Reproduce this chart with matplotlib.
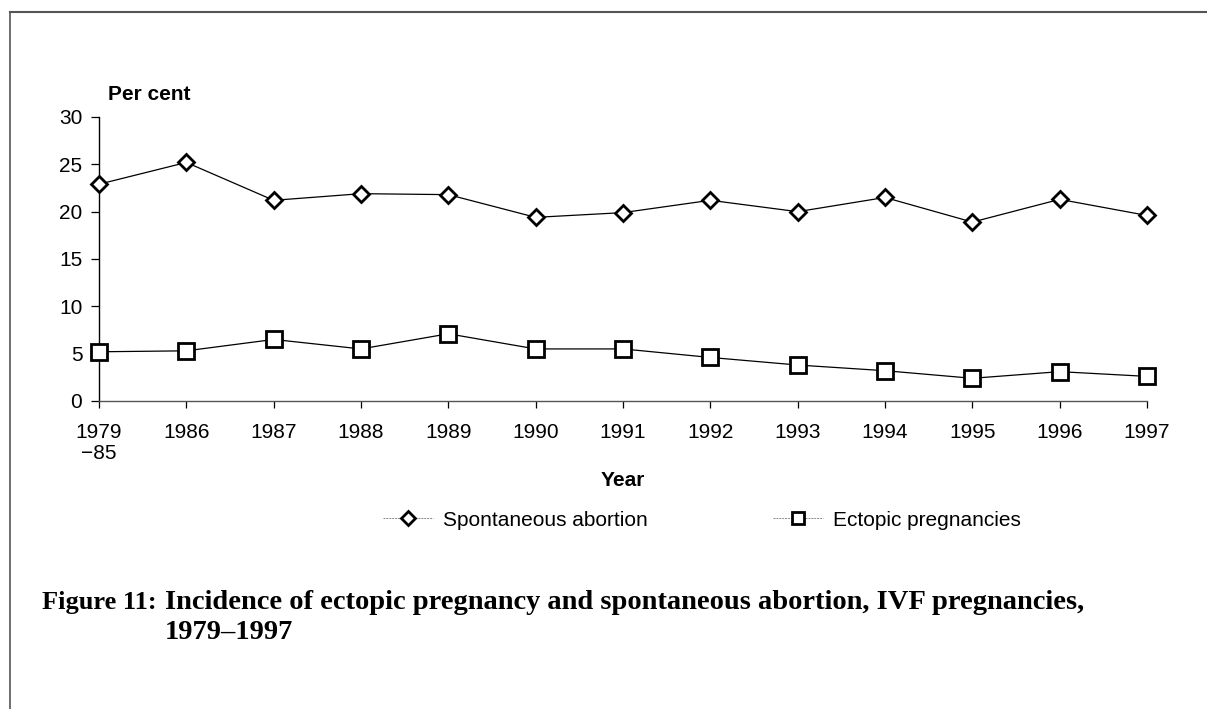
import matplotlib.pyplot as plt
from matplotlib.lines import Line2D

years = ['1979\n\u221285', '1986', '1987', '1988', '1989', '1990', '1991',
         '1992', '1993', '1994', '1995', '1996', '1997']
spontaneous = [22.9, 25.2, 21.2, 21.9, 21.8, 19.4, 19.9, 21.2, 20.0, 21.5, 18.9, 21.3, 19.6]
ectopic = [5.2, 5.3, 6.5, 5.5, 7.1, 5.5, 5.5, 4.6, 3.8, 3.2, 2.4, 3.1, 2.6]
yticks = [0, 5, 10, 15, 20, 25, 30]

plt.rcParams['font.family'] = ['Liberation Sans', 'DejaVu Sans']

W, H = 1207, 709
fig = plt.figure(figsize=(W / 100, H / 100), dpi=100)

# frame lines of the scanned page
fig.add_artist(Line2D([10 / W, 1], [1 - 12 / H, 1 - 12 / H], color='#555555', lw=1.5))
fig.add_artist(Line2D([10 / W, 10 / W], [0, 1 - 12 / H], color='#555555', lw=1.2))

x0, x1, ytop, ybot = 99, 1147, 117, 401
ax = fig.add_axes([x0 / W, 1 - ybot / H, (x1 - x0) / W, (ybot - ytop) / H])

x = list(range(len(years)))
ax.plot(x, spontaneous, color='black', lw=0.9, marker='D', markersize=8,
        markerfacecolor='white', markeredgecolor='black', markeredgewidth=2,
        clip_on=False, zorder=3)
ax.plot(x, ectopic, color='black', lw=0.9, marker='s', markersize=11,
        markerfacecolor='white', markeredgecolor='black', markeredgewidth=2,
        clip_on=False, zorder=3)

ax.set_xlim(0, len(years) - 1)
ax.set_ylim(0, 30)
ax.set_yticks(yticks)
ax.set_xticks(x)
ax.set_xticklabels(years, fontsize=15, linespacing=1.1)
ax.tick_params(axis='y', labelsize=15, length=6, width=0.9, direction='out', pad=6)
ax.tick_params(axis='x', length=5, width=0.9, direction='out', pad=11)
for lbl in ax.get_xticklabels():
    lbl.set_verticalalignment('top')
ax.spines['top'].set_visible(False)
ax.spines['right'].set_visible(False)
ax.spines['left'].set_linewidth(1.0)
ax.spines['bottom'].set_color('#555555')
ax.spines['bottom'].set_linewidth(1.0)

fig.text(108 / W, 1 - 95 / H, 'Per cent', fontsize=15, fontweight='bold', va='center', ha='left')
fig.text(623 / W, 1 - 480 / H, 'Year', fontsize=15, fontweight='bold', va='center', ha='center')

h1 = Line2D([], [], color='#888888', lw=0.7, ls=(0, (2, 1)), marker='D', markersize=7,
            markerfacecolor='white', markeredgecolor='black', markeredgewidth=2)
h2 = Line2D([], [], color='#888888', lw=0.7, ls=(0, (2, 1)), marker='s', markersize=9,
            markerfacecolor='white', markeredgecolor='black', markeredgewidth=2)
fig.legend([h1, h2], ['Spontaneous abortion', 'Ectopic pregnancies'],
           loc='center', bbox_to_anchor=(702 / W, 1 - 520 / H), ncol=2, frameon=False,
           fontsize=15, handlelength=2.4, handletextpad=0.5, columnspacing=6.0)

# caption, all on a common baseline
cap_font = dict(family=['Liberation Serif', 'DejaVu Serif'], fontweight='bold')
fig.text(42 / W, 1 - 609 / H, 'Figure 11:', va='baseline', ha='left', fontsize=19, **cap_font)
fig.text(165 / W, 1 - 609 / H,
         'Incidence of ectopic pregnancy and spontaneous abortion, IVF pregnancies,',
         va='baseline', ha='left', fontsize=20.5, **cap_font)
fig.text(165 / W, 1 - 639 / H, '1979\u20131997', va='baseline', ha='left', fontsize=20.5, **cap_font)

fig.savefig('out.png', dpi=100)
